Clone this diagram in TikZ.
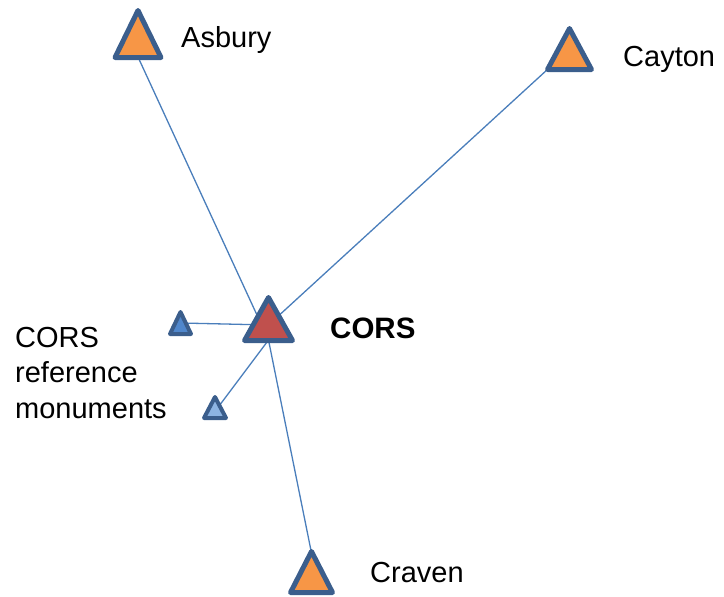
\documentclass[tikz,border=0pt]{standalone}
\usepackage{fontspec}
\setmainfont{Liberation Sans}
\definecolor{edge}{HTML}{3B5E8C}
\definecolor{link}{HTML}{4A7EBB}
\definecolor{orng}{HTML}{F79646}
\definecolor{corsred}{HTML}{C0504D}
\definecolor{mblue}{HTML}{5087CC}
\definecolor{lblue}{HTML}{8DB4E2}
\newcommand\mytri[6]{%
  \coordinate (#1) at (#2,{(#3+#4)/2});
  \draw[#6] (#2,#3) -- ({#2+#5},#4) -- ({#2-#5},#4) -- cycle;}
\begin{document}
\begin{tikzpicture}[x=1pt,y=-1pt,
  bigtri/.style={draw=edge,line width=5pt,line join=round,fill=orng},
  corstri/.style={draw=edge,line width=5pt,line join=round,fill=corsred},
  smalltri/.style={draw=edge,line width=4pt,line join=round},
  connector/.style={draw=link,line width=1.3pt},
  lbl/.style={anchor=base west,inner sep=0pt,font=\fontsize{29}{35}\selectfont}]
\useasboundingbox (0,0) rectangle (724,597);
% connector end points
\coordinate (corsb) at (268.5,340);
\coordinate (corsc) at (268.5,325);
\coordinate (asbb) at (138,57);
\coordinate (cayb) at (548,69);
\coordinate (s1c) at (181,323);
\coordinate (s2c) at (216,410);
\coordinate (cravt) at (311.5,553);
\draw[connector] (asbb) -- (corsb);
\draw[connector] (cayb) -- (corsc);
\draw[connector] (s1c) -- (corsc);
\draw[connector] (s2c) -- (corsb);
\draw[connector] (cravt) -- (corsb);
% triangles
\mytri{asbury}{138}{10.5}{57.5}{23}{bigtri}
\mytri{cayton}{569.5}{28.5}{69.5}{22}{bigtri}
\mytri{craven}{311.5}{551.5}{592.5}{21}{bigtri}
\mytri{cors}{268.5}{297.5}{340.5}{24}{corstri}
\mytri{ref1}{180.5}{312}{334}{10.5}{smalltri,fill=mblue}
\mytri{ref2}{215}{397}{418}{11}{smalltri,fill=lblue}
% labels
\node[lbl] (tasb) at (181,47) {Asbury};
\node[lbl] (tcay) at (623,66) {Cayton};
\node[lbl] (tcrav) at (370,582) {Craven};
\node[lbl,font=\fontsize{29.5}{35}\selectfont\bfseries] (tcors) at (330,338) {CORS};
\node[lbl] (tref1) at (15,347) {CORS};
\node[lbl] (tref2) at (15,382) {reference};
\node[lbl] (tref3) at (15,418) {monuments};
\end{tikzpicture}
\end{document}
